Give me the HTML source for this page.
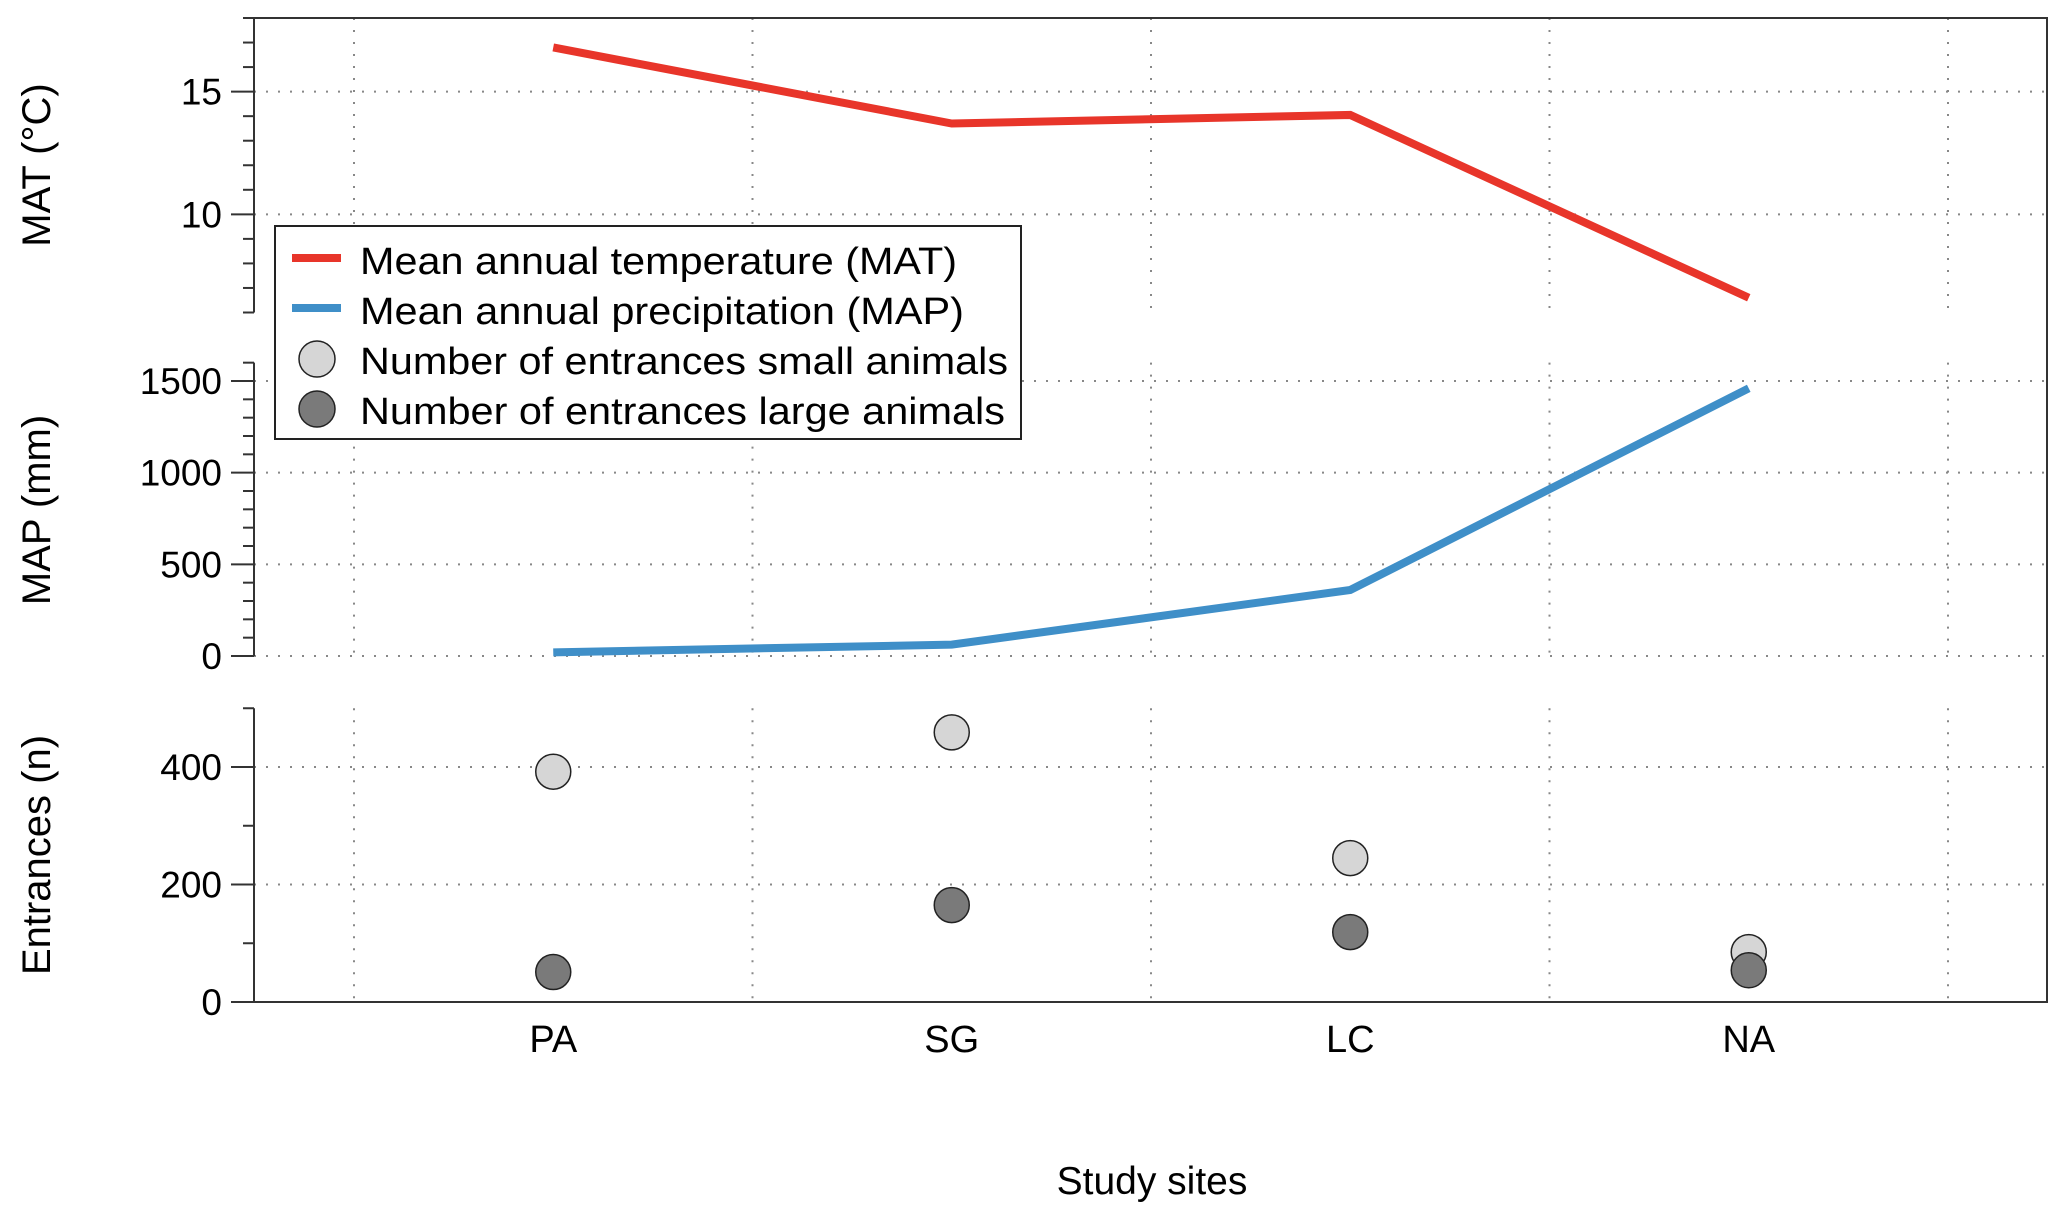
<!DOCTYPE html>
<html><head><meta charset="utf-8"><style>
html,body{margin:0;padding:0;background:#fff}
svg{display:block;font-family:"Liberation Sans",Arial,sans-serif}
</style></head><body>
<svg id="chart" width="2067" height="1224" viewBox="0 0 2067 1224" xmlns="http://www.w3.org/2000/svg">
<rect width="2067" height="1224" fill="#fff"/>
<g id="grid"></g>
<g id="axes"></g>
<g id="series"></g>
<g id="legend"></g>
</svg>
<script>
const sites = ["PA","SG","LC","NA"];
const matValues = [16.8, 13.7, 14.05, 6.6];
const mapValues = [20, 62, 360, 1460];
const smallAnimals = [392, 459, 245, 85];
const largeAnimals = [51, 165, 119, 54];
const matTicks = [10, 15];
const mapTicks = [0, 500, 1000, 1500];
const entTicks = [0, 200, 400];

const NS = "http://www.w3.org/2000/svg";
function mk(tag, attrs, parent){const e=document.createElementNS(NS,tag);for(const k in attrs)e.setAttribute(k,attrs[k]);parent.appendChild(e);return e;}
const grid=document.getElementById('grid'), axes=document.getElementById('axes'), series=document.getElementById('series'), legend=document.getElementById('legend');

const X0=254, X1=2047;
function x(i){return 354+(i+0.5)*398.5;}
function lin(d0,d1,r0,r1){return v=>r0+(v-d0)*(r1-r0)/(d1-d0);}
const panels=[
 {name:'mat',y:lin(6,18,312.5,18),min:6,max:18,ticks:matTicks,minor:1,title:'MAT (°C)',tc:165},
 {name:'map',y:lin(0,1500,656,381),min:0,max:1600,ticks:mapTicks,minor:100,title:'MAP (mm)',tc:510},
 {name:'entrances',y:lin(0,400,1002,767),min:0,max:500,ticks:entTicks,minor:100,title:'Entrances (n)',tc:855}
];

panels.forEach(p=>{
  const top=p.y(p.max), bot=p.y(p.min);
  for(let k=0;k<5;k++){
    const gx=354+k*398.5;
    const l=mk('line',{x1:gx,x2:gx,y1:top,y2:bot,stroke:'#888','stroke-width':2,'stroke-dasharray':'2 10'},grid);
    
    
  }
  p.ticks.forEach(t=>{
    const yy=p.y(t);
    const l=mk('line',{x1:X0,x2:X1,y1:yy,y2:yy,stroke:'#888','stroke-width':2,'stroke-dasharray':'2 10'},grid);
    
    
    mk('line',{x1:231,x2:X0,y1:yy,y2:yy,stroke:'#333','stroke-width':2},axes);
    const tx=mk('text',{x:222,y:yy+13,'text-anchor':'end','font-size':37,fill:'#000'},axes);
    tx.textContent=t;
    
    
  });
  for(let v=p.min; v<=p.max+1e-9; v+=p.minor){
    if(p.ticks.includes(v)) continue;
    mk('line',{x1:243,x2:X0,y1:p.y(v),y2:p.y(v),stroke:'#333','stroke-width':2},axes);
  }
  const sp=mk('line',{x1:X0,x2:X0,y1:top,y2:bot,stroke:'#333','stroke-width':2},axes);
  
  
  const tt=mk('text',{x:0,y:0,transform:`translate(50,${p.tc}) rotate(-90)`,'text-anchor':'middle','font-size':40,fill:'#000'},axes);
  tt.textContent=p.title;
  
  
});
const fr=mk('path',{d:`M244 18 H${X1} V1002 H231`,fill:'none',stroke:'#333','stroke-width':2},axes);


sites.forEach((s,i)=>{
  const t=mk('text',{x:x(i),y:1052,'text-anchor':'middle','font-size':38,fill:'#000'},axes);
  t.textContent=s;
  
  
});
const xt=mk('text',{x:1152,y:1194,'text-anchor':'middle','font-size':39,fill:'#000'},axes);
xt.textContent='Study sites';



const matLine=mk('polyline',{points:matValues.map((v,i)=>x(i)+','+panels[0].y(v)).join(' '),fill:'none',stroke:'#e8352a','stroke-width':8},series);


const mapLine=mk('polyline',{points:mapValues.map((v,i)=>x(i)+','+panels[1].y(v)).join(' '),fill:'none',stroke:'#3f8fc8','stroke-width':8},series);


smallAnimals.forEach((v,i)=>{
  const c=mk('circle',{cx:x(i),cy:panels[2].y(v),r:17.5,fill:'#d6d6d6',stroke:'#222','stroke-width':1.5},series);
  
  
});
largeAnimals.forEach((v,i)=>{
  const c=mk('circle',{cx:x(i),cy:panels[2].y(v),r:17.5,fill:'#7a7a7a',stroke:'#222','stroke-width':1.5},series);
  
  
});

mk('rect',{x:275,y:226,width:746,height:213,fill:'#fff',stroke:'#222','stroke-width':2},legend);
const entries=[
 {t:'Mean annual temperature (MAT)',type:'line',c:'#e8352a',w:597},
 {t:'Mean annual precipitation (MAP)',type:'line',c:'#3f8fc8',w:604},
 {t:'Number of entrances small animals',type:'dot',c:'#d6d6d6',w:648},
 {t:'Number of entrances large animals',type:'dot',c:'#7a7a7a',w:645}
];
entries.forEach((e,k)=>{
  const cy=258+k*50, by=274+k*50;
  if(e.type==='line'){
    const l=mk('line',{x1:292,x2:341,y1:cy,y2:cy,stroke:e.c,'stroke-width':8},legend);
    
    
  } else {
    const c=mk('circle',{cx:317,cy:cy+1,r:18,fill:e.c,stroke:'#222','stroke-width':1.5},legend);
    
    
  }
  const t=mk('text',{x:360,y:by,'font-size':38,fill:'#000',textLength:e.w,lengthAdjust:'spacingAndGlyphs'},legend);
  t.textContent=e.t;
  
  
});
</script>
</body></html>
